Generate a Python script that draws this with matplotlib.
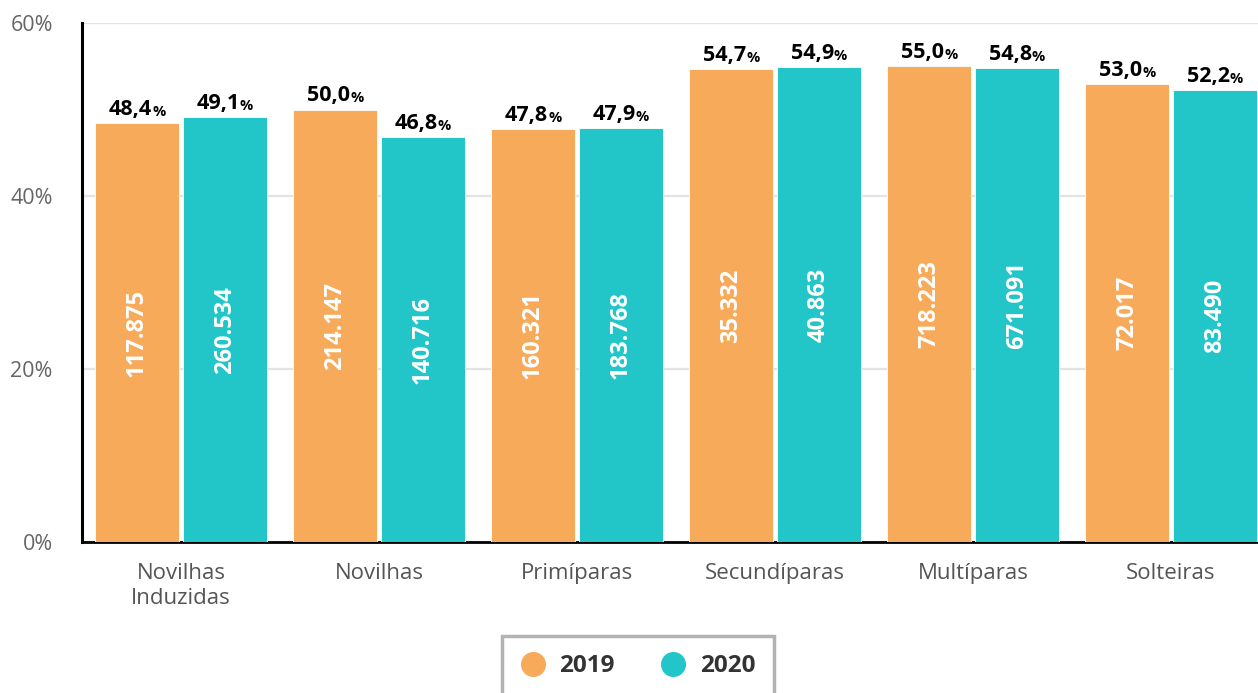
import matplotlib.pyplot as plt
from matplotlib.lines import Line2D
import numpy as np

plt.rcParams['font.family'] = ['Open Sans', 'DejaVu Sans']

categories = ['Novilhas\nInduzidas', 'Novilhas', 'Primíparas', 'Secundíparas', 'Multíparas', 'Solteiras']
pct_2019 = [48.4, 50.0, 47.8, 54.7, 55.0, 53.0]
pct_2020 = [49.1, 46.8, 47.9, 54.9, 54.8, 52.2]
n_2019 = ['117.875', '214.147', '160.321', '35.332', '718.223', '72.017']
n_2020 = ['260.534', '140.716', '183.768', '40.863', '671.091', '83.490']
years = ['2019', '2020']

c19 = '#F7AA5A'
c20 = '#22C6C8'

fig = plt.figure(figsize=(12.58, 6.93), dpi=100)
ax = fig.add_axes([82 / 1258, 151 / 693, 1188 / 1258, 519 / 693])

x = np.arange(len(categories))
w = 0.424
off = 0.222
ax.bar(x - off, pct_2019, w, color=c19, edgecolor='white', linewidth=0.6, zorder=3)
ax.bar(x + off, pct_2020, w, color=c20, edgecolor='white', linewidth=0.6, zorder=3)

def label_bars(xs, vals, counts):
    for xi, v, n in zip(xs, vals, counts):
        num = f'{v:.1f}'.replace('.', ',')
        ax.annotate(num, (xi, v), xytext=(15, 3), textcoords='offset pixels',
                    ha='right', va='bottom', fontsize=15.5, fontweight='bold', color='black', zorder=4)
        ax.annotate('%', (xi, v), xytext=(15, 4), textcoords='offset pixels',
                    ha='left', va='bottom', fontsize=10.5, fontweight='bold', color='black', zorder=4)
        ax.text(xi, v / 2, n, rotation=90, ha='center', va='center',
                fontsize=17, fontweight='bold', color='white', zorder=4)

label_bars(x - off, pct_2019, n_2019)
label_bars(x + off, pct_2020, n_2020)

ax.set_xlim(-0.5, len(categories) - 0.5)
ax.set_ylim(0, 60)
ax.set_yticks([0, 20, 40, 60])
ax.set_yticklabels(['0%', '20%', '40%', '60%'])
ax.set_xticks(x)
ax.set_xticklabels(categories, linespacing=1.25)
ax.tick_params(axis='y', length=0, pad=21, labelsize=15.5, labelcolor='#666666')
ax.tick_params(axis='x', length=0, pad=15, labelsize=16, labelcolor='#555555')
ax.grid(axis='y', color='#e3e3e3', linewidth=1.6, zorder=0)
ax.set_axisbelow(True)

for s in ['top', 'right']:
    ax.spines[s].set_visible(False)
ax.spines['left'].set_linewidth(2.2)
ax.spines['bottom'].set_linewidth(2.0)
ax.spines['left'].set_color('black')
ax.spines['bottom'].set_color('black')

handles = [Line2D([], [], marker='o', linestyle='none', markersize=17, markerfacecolor=c,
                  markeredgecolor=c) for c in (c19, c20)]
leg = fig.legend(handles, years, loc='upper center', bbox_to_anchor=(638 / 1258, 1 - 636 / 693),
                 ncol=2, frameon=True, fancybox=False, handlelength=1.0, handletextpad=0.6,
                 columnspacing=1.9, borderpad=0.75, borderaxespad=0,
                 prop={'weight': 'bold', 'size': 17.5})
leg.get_frame().set_edgecolor('#a0a0a0')
leg.get_frame().set_linewidth(2.5)
for t in leg.get_texts():
    t.set_color('#333333')

fig.savefig('out.png', dpi=100)
